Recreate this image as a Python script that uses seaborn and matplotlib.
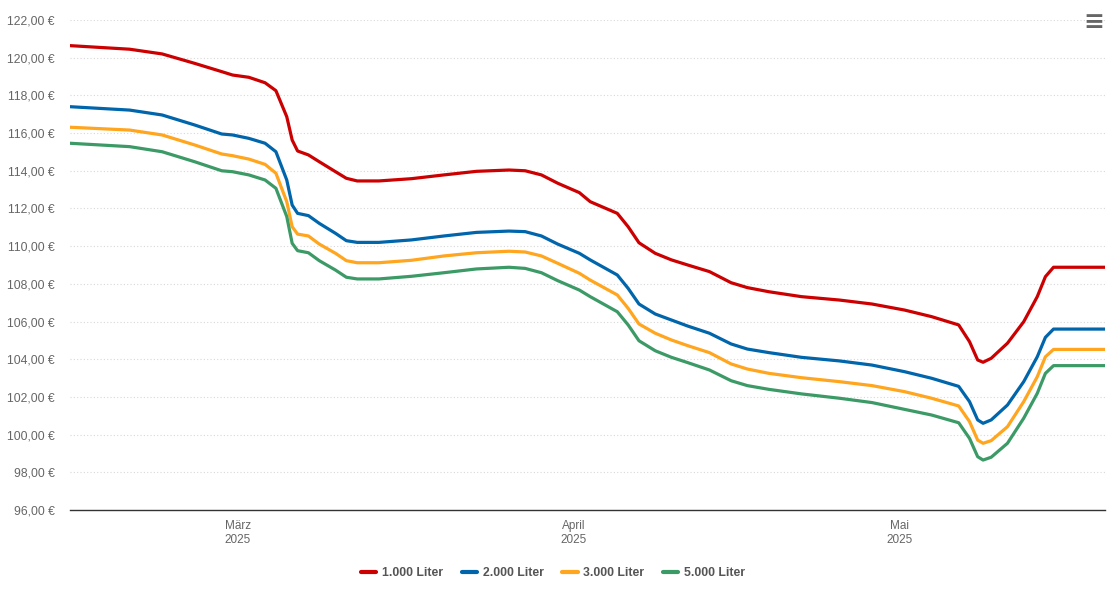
import matplotlib
matplotlib.use("Agg")
import matplotlib.pyplot as plt
from matplotlib.ticker import FuncFormatter, MultipleLocator
import seaborn as sns
import pandas as pd

dates = [
    "2025-02-13 12:00", "2025-02-19 00:00", "2025-02-22 00:00", "2025-02-25 00:00",
    "2025-02-27 12:00", "2025-02-28 12:00", "2025-03-02 00:00", "2025-03-03 12:00",
    "2025-03-04 12:00", "2025-03-05 12:00", "2025-03-06 00:00", "2025-03-06 12:00",
    "2025-03-07 12:00", "2025-03-08 12:00", "2025-03-10 00:00", "2025-03-11 00:00",
    "2025-03-12 00:00", "2025-03-14 00:00", "2025-03-17 00:00", "2025-03-20 00:00",
    "2025-03-23 00:00", "2025-03-26 00:00", "2025-03-27 12:00", "2025-03-29 00:00",
    "2025-03-30 12:00", "2025-04-01 12:00", "2025-04-02 12:00", "2025-04-05 00:00",
    "2025-04-06 00:00", "2025-04-07 00:00", "2025-04-08 12:00", "2025-04-10 00:00",
    "2025-04-11 12:00", "2025-04-13 12:00", "2025-04-15 12:00", "2025-04-17 00:00",
    "2025-04-19 00:00", "2025-04-22 00:00", "2025-04-25 12:00", "2025-04-28 12:00",
    "2025-05-01 12:00", "2025-05-04 00:00", "2025-05-06 12:00", "2025-05-07 12:00",
    "2025-05-08 06:00", "2025-05-08 18:00", "2025-05-09 12:00", "2025-05-11 00:00",
    "2025-05-12 12:00", "2025-05-13 18:00", "2025-05-14 12:00", "2025-05-15 06:00",
    "2025-05-20 00:00",
]

liter_1000 = [
    120.64, 120.45, 120.20, 119.70, 119.26, 119.08, 118.96, 118.67, 118.25, 116.87,
    115.63, 115.05, 114.84, 114.48, 113.95, 113.60, 113.46, 113.46, 113.58, 113.78,
    113.97, 114.04, 114.00, 113.78, 113.34, 112.84, 112.36, 111.74, 111.03, 110.18,
    109.62, 109.27, 109.00, 108.65, 108.06, 107.80, 107.58, 107.32, 107.14, 106.93,
    106.61, 106.26, 105.82, 104.93, 103.96, 103.84, 104.05, 104.85, 105.99, 107.32,
    108.38, 108.88, 108.88,
]
liter_2000 = [
    117.40, 117.22, 116.96, 116.43, 115.95, 115.90, 115.72, 115.46, 115.01, 113.51,
    112.18, 111.74, 111.62, 111.21, 110.68, 110.29, 110.20, 110.20, 110.33, 110.54,
    110.73, 110.80, 110.77, 110.54, 110.11, 109.62, 109.27, 108.47, 107.76, 106.93,
    106.40, 106.08, 105.76, 105.38, 104.81, 104.54, 104.35, 104.10, 103.91, 103.69,
    103.34, 102.99, 102.56, 101.75, 100.78, 100.60, 100.78, 101.57, 102.81, 104.13,
    105.16, 105.60, 105.60,
]
liter_3000 = [
    116.31, 116.16, 115.90, 115.37, 114.89, 114.80, 114.62, 114.34, 113.87, 112.36,
    111.03, 110.64, 110.54, 110.11, 109.62, 109.23, 109.12, 109.12, 109.25, 109.48,
    109.65, 109.73, 109.69, 109.48, 109.09, 108.56, 108.20, 107.41, 106.70, 105.87,
    105.38, 105.02, 104.72, 104.35, 103.75, 103.48, 103.25, 103.02, 102.81, 102.60,
    102.28, 101.93, 101.52, 100.69, 99.71, 99.54, 99.68, 100.42, 101.75, 103.07,
    104.13, 104.52, 104.52,
]
liter_5000 = [
    115.46, 115.28, 115.01, 114.48, 114.00, 113.95, 113.78, 113.51, 113.07, 111.57,
    110.15, 109.76, 109.65, 109.23, 108.73, 108.35, 108.26, 108.26, 108.40, 108.59,
    108.79, 108.88, 108.82, 108.59, 108.17, 107.67, 107.32, 106.52, 105.82, 104.98,
    104.45, 104.10, 103.82, 103.43, 102.86, 102.60, 102.40, 102.16, 101.93, 101.70,
    101.34, 101.04, 100.63, 99.80, 98.83, 98.65, 98.80, 99.54, 100.87, 102.19,
    103.25, 103.66, 103.66,
]

series_names = ["1.000 Liter", "2.000 Liter", "3.000 Liter", "5.000 Liter"]
series_values = [liter_1000, liter_2000, liter_3000, liter_5000]
colors = ["#CC0000", "#0065AB", "#FFA51E", "#3C9A66"]

month_ticks = ["2025-03-01", "2025-04-01", "2025-05-01"]
month_labels = ["März\n2025", "April\n2025", "Mai\n2025"]

frames = []
for name, vals in zip(series_names, series_values):
    frames.append(pd.DataFrame({"Datum": pd.to_datetime(dates), "Preis": vals, "Menge": name}))
df = pd.concat(frames, ignore_index=True)

sns.set_style("white")
plt.rcParams["font.family"] = ["Liberation Sans", "DejaVu Sans"]

W, H = 1115, 608
fig = plt.figure(figsize=(W / 100, H / 100), dpi=100)
ax = fig.add_axes([70 / W, 1 - 510 / H, (1105 - 70) / W, (510 - 20) / H])

sns.lineplot(data=df, x="Datum", y="Preis", hue="Menge", palette=colors,
             linewidth=2.3, ax=ax, legend=True)
for ln in ax.get_lines():
    ln.set_solid_joinstyle("round")
    ln.set_solid_capstyle("round")

ax.set_ylim(96, 122)
ax.set_xlim(pd.Timestamp(dates[0]), pd.Timestamp(dates[-1]))
ax.yaxis.set_major_locator(MultipleLocator(2))
ax.yaxis.set_major_formatter(FuncFormatter(lambda v, p: f"{v:.2f} €".replace(".", ",")))
ax.grid(axis="y", color="#d8d8d8", linestyle=(0, (1, 2)), linewidth=0.8)
ax.grid(axis="x", visible=False)
ax.set_axisbelow(True)

ax.set_xticks(pd.to_datetime(month_ticks))
ax.set_xticklabels(month_labels, linespacing=1.25)
ax.set_xlabel("")
ax.set_ylabel("")

for s in ["top", "right", "left"]:
    ax.spines[s].set_visible(False)
ax.spines["bottom"].set_color("#333333")
ax.spines["bottom"].set_linewidth(1.0)
ax.tick_params(axis="x", colors="#333333", length=6.5, width=1, direction="out",
               labelcolor="#666666", labelsize=8.5, pad=0.5)
ax.tick_params(axis="y", length=0, labelcolor="#666666", labelsize=8.8, pad=11)

handles, labels = ax.get_legend_handles_labels()
ax.legend_.remove()
leg = fig.legend(handles, labels, loc="center", bbox_to_anchor=(553 / W, 1 - 573 / H),
                 ncol=4, frameon=False, handlelength=1.25, columnspacing=1.55,
                 handletextpad=0.45, prop={"weight": "bold", "size": 8.8})
for t in leg.get_texts():
    t.set_color("#555555")
for l in leg.get_lines():
    l.set_linewidth(3)

fig.text(1094 / W, 1 - 22 / H, "≡", ha="center", va="center", fontsize=18, color="#666666",
         fontweight="bold", family="DejaVu Sans")

fig.savefig("out.png", dpi=100, facecolor="white")
